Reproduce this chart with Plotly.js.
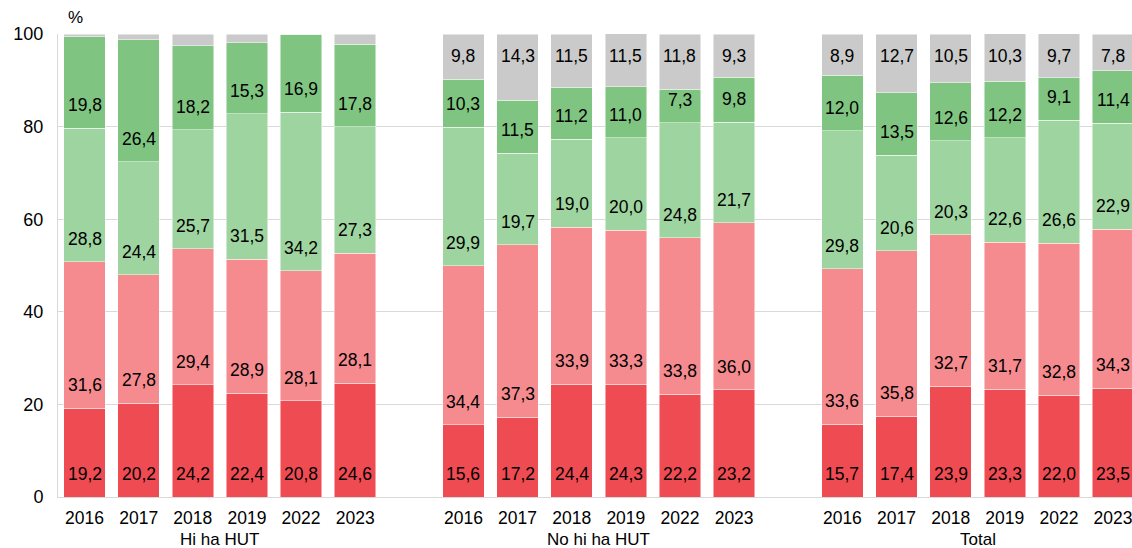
<!DOCTYPE html>
<html><head><meta charset="utf-8">
<script src="https://cdn.plot.ly/plotly-3.0.1.min.js"></script>
<style>html,body{margin:0;padding:0;background:#fff}#chart{width:1132px;height:548px}</style>
</head><body><div id="chart"></div>
<script>
// ---- data ----
const groups = ['Hi ha HUT', 'No hi ha HUT', 'Total'];
const years = ['2016', '2017', '2018', '2019', '2022', '2023'];
// each array: 6 years of 'Hi ha HUT', then 6 of 'No hi ha HUT', then 6 of 'Total'
const seg1 = [19.2, 20.2, 24.2, 22.4, 20.8, 24.6,  15.6, 17.2, 24.4, 24.3, 22.2, 23.2,  15.7, 17.4, 23.9, 23.3, 22.0, 23.5];
const seg2 = [31.6, 27.8, 29.4, 28.9, 28.1, 28.1,  34.4, 37.3, 33.9, 33.3, 33.8, 36.0,  33.6, 35.8, 32.7, 31.7, 32.8, 34.3];
const seg3 = [28.8, 24.4, 25.7, 31.5, 34.2, 27.3,  29.9, 19.7, 19.0, 20.0, 24.8, 21.7,  29.8, 20.6, 20.3, 22.6, 26.6, 22.9];
const seg4 = [19.8, 26.4, 18.2, 15.3, 16.9, 17.8,  10.3, 11.5, 11.2, 11.0,  7.3,  9.8,  12.0, 13.5, 12.6, 12.2,  9.1, 11.4];
const seg5 = [ 0.6,  1.2,  2.5,  1.9,  0.0,  2.2,   9.8, 14.3, 11.5, 11.5, 11.8,  9.3,   8.9, 12.7, 10.5, 10.3,  9.7,  7.8];
const seg5Labelled = [false, true, true];

// ---- styles ----
const colors = ['#EF4B53', '#F58A8F', '#9ED49F', '#7FC581', '#CACACA'];
const FONT = 'Liberation Sans, Arial, sans-serif';
const series = [seg1, seg2, seg3, seg4, seg5];
const YMAX = 100;

// x positions: one empty slot between groups
const xs = [], tickText = [];
groups.forEach((g, gi) => years.forEach((y, yi) => { xs.push(gi * 7 + yi); tickText.push(y); }));

const fmt = v => v.toFixed(1).replace('.', ',');

const traces = series.map((vals, k) => ({
  type: 'bar', x: xs, y: vals,
  marker: {color: colors[k], line: {color: 'rgba(255,255,255,0.6)', width: 0.8}},
  hoverinfo: 'skip', showlegend: false
}));

const annotations = [];
xs.forEach((x, i) => {
  let base = 0;
  series.forEach((vals, k) => {
    const v = vals[i];
    const gi = Math.floor(i / 6);
    if (k < 4) {
      annotations.push({x: x, y: base, xref: 'x', yref: 'y', text: fmt(v), showarrow: false,
        yanchor: 'middle', yshift: 23, font: {family: FONT, size: 17.5, color: '#000'}});
    } else if (seg5Labelled[gi]) {
      annotations.push({x: x, y: Math.min(base + v, YMAX), xref: 'x', yref: 'y', text: fmt(v), showarrow: false,
        yanchor: 'middle', yshift: -22, font: {family: FONT, size: 17.5, color: '#000'}});
    }
    base += v;
  });
});
groups.forEach((g, gi) => {
  annotations.push({x: gi * 7 + 2.5, y: 0, xref: 'x', yref: 'paper', text: g, showarrow: false,
    xanchor: 'center', yanchor: 'middle', yshift: -42, borderpad: 0,
    font: {family: FONT, size: 17, color: '#000'}});
});
annotations.push({x: 0.016, y: 1, xref: 'paper', yref: 'paper', text: '%', showarrow: false,
  xanchor: 'center', yanchor: 'middle', yshift: 17, font: {family: FONT, size: 17, color: '#000'}});

const layout = {
  width: 1132, height: 548,
  margin: {l: 58, r: 0, t: 34, b: 51},
  paper_bgcolor: '#fff', plot_bgcolor: '#fff',
  barmode: 'stack', bargap: 0.233,
  showlegend: false,
  font: {family: FONT, size: 18, color: '#000'},
  xaxis: {range: [-0.49, 19.35], tickvals: xs, ticktext: tickText, showgrid: false, zeroline: false,
    showline: true, linecolor: '#D9D9D9', linewidth: 1, ticks: '', ticklabelstandoff: 5,
    ticklabeloverflow: 'allow',
    tickfont: {family: FONT, size: 17.5, color: '#000'}, fixedrange: true},
  yaxis: {range: [0, YMAX], dtick: 20, tick0: 0, showgrid: true, gridcolor: '#D9D9D9', gridwidth: 1,
    zeroline: false, showline: true, linecolor: '#D9D9D9', linewidth: 1, ticks: '', ticklabelstandoff: 10,
    tickfont: {family: FONT, size: 18, color: '#000'}, fixedrange: true},
  annotations: annotations
};

Plotly.newPlot('chart', traces, layout, {displayModeBar: false, staticPlot: true});
</script>
</body></html>
